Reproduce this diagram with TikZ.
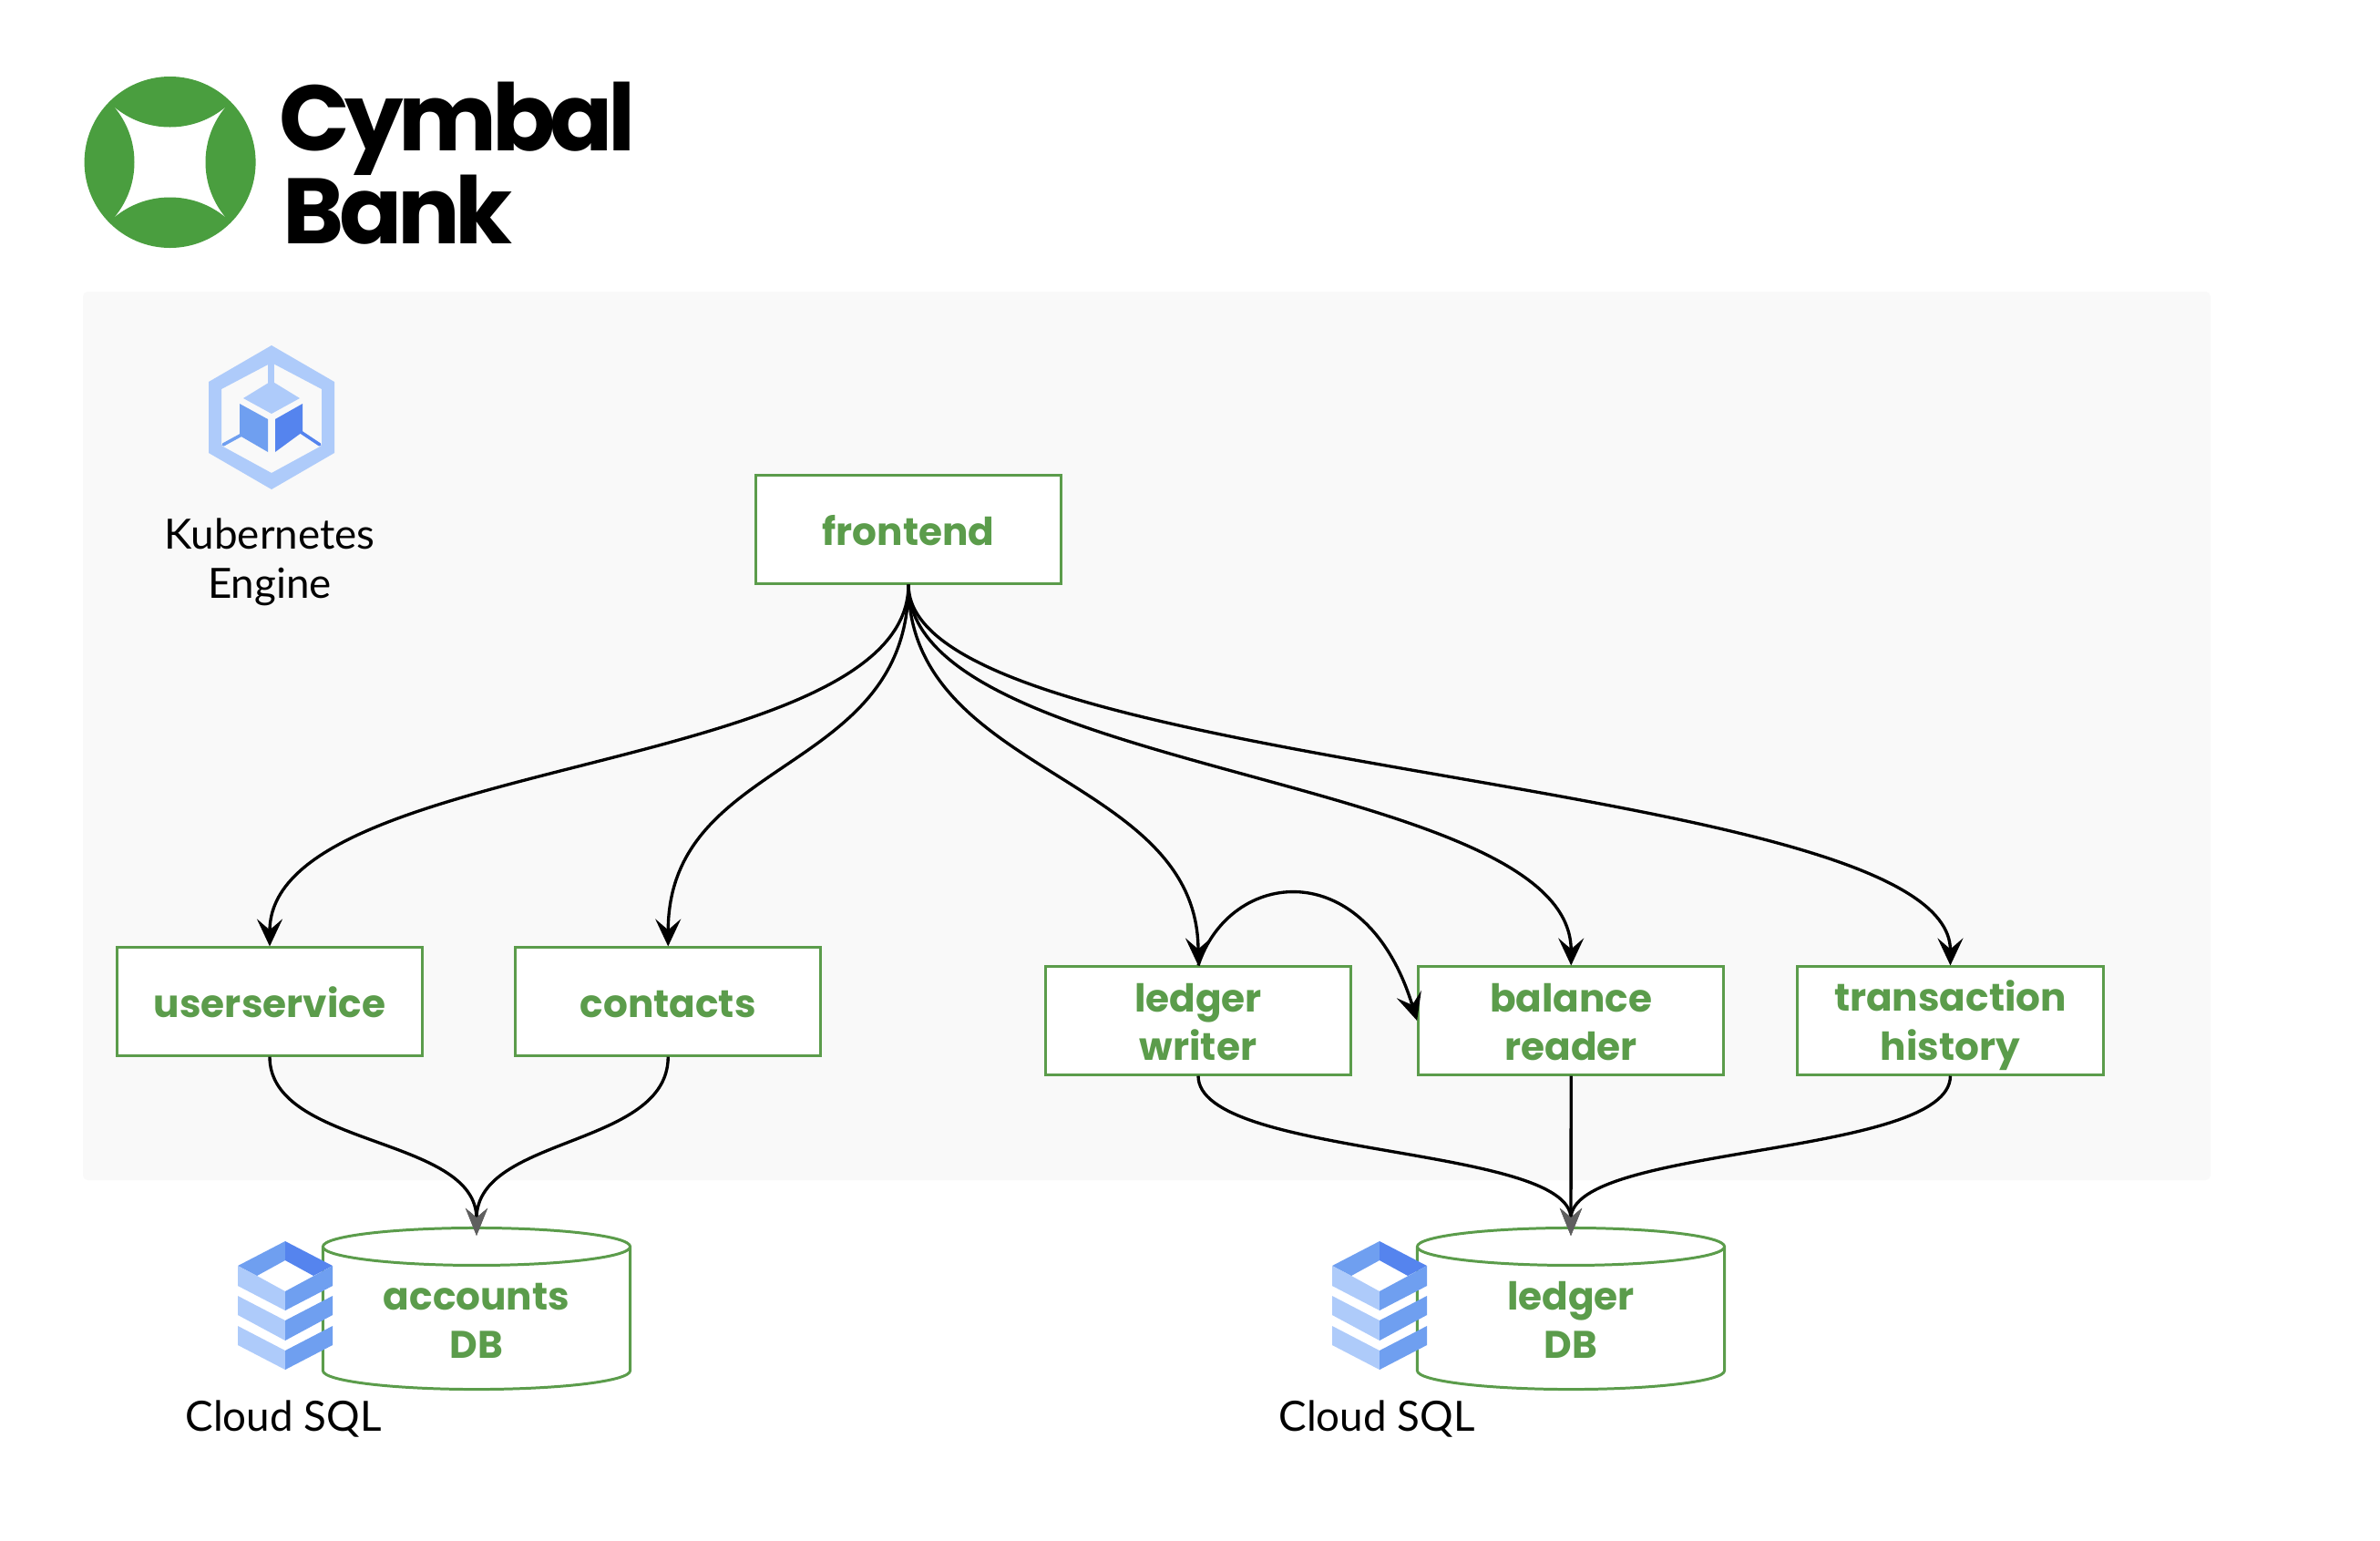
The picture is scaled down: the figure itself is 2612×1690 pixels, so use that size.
\documentclass[tikz,border=0pt]{standalone}
\usepackage{fontspec}
\setmainfont{Lato}
\newfontfamily\svcfont{Poppins}
\newfontfamily\logofont{Poppins}[LetterSpace=-5.5]
\usetikzlibrary{arrows.meta,positioning,shapes.geometric}

\definecolor{svcgreen}{HTML}{5B9C4B}
\definecolor{logogreen}{HTML}{4A9E3F}
\definecolor{panelgray}{HTML}{F9F9F9}
\definecolor{tipgray}{HTML}{5F5F5F}
\definecolor{gcplight}{HTML}{AECBFA}
\definecolor{gcpmid}{HTML}{6F9FF0}
\definecolor{gcpdark}{HTML}{5584EE}
\newcommand{\svcstrut}{\rule[-2.7pt]{0pt}{15.2pt}}
\newcommand{\svcsetup}{\svcfont\fontsize{12}{15.2}\selectfont\bfseries\setlength{\lineskiplimit}{-6pt}}

\begin{document}
\begin{tikzpicture}[
  x=0.01cm, y=-0.01cm,
  svc/.style={font=\svcsetup, draw=svcgreen, fill=white, line width=0.85pt, text=svcgreen, align=center, minimum width=3.35cm, minimum height=1.18cm, inner sep=0pt},
  dbase/.style={font=\svcsetup, cylinder, shape border rotate=90, aspect=0.2, draw=svcgreen, fill=white, line width=0.85pt, text=svcgreen, text width=2.05cm, align=center, minimum width=3.37cm, minimum height=1.77cm, inner sep=0pt},
  lbl/.style={align=center, font=\fontsize{13}{15.2}\selectfont, text=black, inner sep=0pt},
  arr/.style={-{Stealth[length=3mm,width=2.8mm,inset=1.2mm]}, line width=0.95pt, black},
  dbarr/.style={-{Stealth[length=3mm,width=2.4mm,inset=1mm,color=tipgray]}, line width=0.95pt, black, shorten >=-1mm}
]
\useasboundingbox (0,0) rectangle (2612,1690);
\fill[panelgray, rounded corners=1.5pt] (91,320) rectangle (2426,1295);

% logo
\fill[logogreen, even odd rule] (186.6,178) circle (94)
  (125,117) .. controls (160,147) and (213,147) .. (248,117)
  .. controls (218,152) and (218,204) .. (248,239)
  .. controls (213,209) and (160,209) .. (125,239)
  .. controls (155,204) and (155,152) .. (125,117) -- cycle;
\node[anchor=base west, inner sep=0pt, font=\logofont\fontsize{29}{29}\selectfont\bfseries] (cymbal) at (306,165) {Cymbal};
\node[anchor=base west, inner sep=0pt, font=\logofont\fontsize{29}{29}\selectfont\bfseries] (bank) at (310,267) {Bank};

% kubernetes icon
\fill[gcplight, even odd rule] (298,379) -- (367,419) -- (367,497) -- (298,537) -- (229,497) -- (229,419) -- cycle
  (298,398) -- (353,427) -- (353,489) -- (298,519) -- (243,489) -- (243,427) -- cycle;
\fill[gcplight] (294,398) rectangle (301,422);
\fill[gcplight] (298,418) -- (329,437) -- (298,454) -- (267,437) -- cycle;
\fill[gcpmid] (263,443) -- (294,460) -- (294,496) -- (263,478) -- cycle;
\fill[gcpdark] (302,460) -- (332,443) -- (332,474) -- (302,496) -- cycle;
\draw[gcpmid, line width=1pt, line cap=round] (267,476) -- (245,488);
\draw[gcpdark, line width=1pt, line cap=round] (330,474) -- (351,488);
\node[lbl] (gke) at (296,617) {Kubernetes\\Engine};

\node[svc] (frontend) at (997,581) {frontend\svcstrut};
\node[svc] (userservice) at (296,1099) {userservice\svcstrut};
\node[svc, right=0.99cm of userservice] (contacts) {contacts\svcstrut};
\node[svc] (ledgerwriter) at (1315,1120) {ledger\svcstrut\\writer\svcstrut};
\node[svc, right=0.71cm of ledgerwriter] (balancereader) {balance\svcstrut\\reader\svcstrut};
\node[svc, right=0.78cm of balancereader] (txnhistory) {transaction\svcstrut\\history\svcstrut};
\node[dbase] (accountsdb) at (523,1447) {accounts\svcstrut\\DB\svcstrut};
\node[dbase] (ledgerdb) at (1724,1447) {ledger\svcstrut\\DB\svcstrut};

% cloud sql icons
\foreach \dx in {0,1201} {
  \begin{scope}[xshift=\dx*0.01cm]
    \fill[gcpmid] (261,1389) -- (313,1362) -- (313,1383) -- (282,1400) -- cycle;
    \fill[gcpdark] (313,1362) -- (365,1389) -- (344,1400) -- (313,1383) -- cycle;
    \fill[gcplight] (261,1389) -- (282,1400) -- (313,1417) -- (313,1438) -- (261,1411) -- cycle;
    \fill[gcpmid] (313,1417) -- (365,1389) -- (365,1411) -- (313,1438) -- cycle;
    \fill[gcplight] (261,1422) -- (313,1449) -- (313,1471) -- (261,1443) -- cycle;
    \fill[gcpmid] (313,1449) -- (365,1422) -- (365,1443) -- (313,1471) -- cycle;
    \fill[gcplight] (261,1455) -- (313,1482) -- (313,1503) -- (261,1476) -- cycle;
    \fill[gcpmid] (313,1482) -- (365,1455) -- (365,1476) -- (313,1503) -- cycle;
  \end{scope}
}
\node[lbl] (sqla) at (311,1557) {Cloud SQL};
\node[lbl] (sqlb) at (1511,1557) {Cloud SQL};

\draw[arr] (frontend.south) .. controls +(0,210) and +(0,-210) .. (userservice.north);
\draw[arr] (frontend.south) .. controls +(0,210) and +(0,-210) .. (contacts.north);
\draw[arr] (frontend.south) .. controls +(0,210) and +(0,-210) .. (ledgerwriter.north);
\draw[arr] (frontend.south) .. controls +(0,210) and +(0,-210) .. (balancereader.north);
\draw[arr] (frontend.south) .. controls +(0,210) and +(0,-210) .. (txnhistory.north);
\draw[arr] (ledgerwriter.north) to[out=72,in=107,out looseness=1.15,in looseness=2] (balancereader.west);
\draw[dbarr] (userservice.south) .. controls +(0,100) and +(0,-100) .. (accountsdb.top);
\draw[dbarr] (contacts.south) .. controls +(0,100) and +(0,-100) .. (accountsdb.top);
\draw[dbarr] (ledgerwriter.south) .. controls +(0,90) and +(0,-90) .. (ledgerdb.top);
\draw[dbarr] (balancereader.south) -- (ledgerdb.top);
\draw[dbarr] (txnhistory.south) .. controls +(0,90) and +(0,-90) .. (ledgerdb.top);
\end{tikzpicture}
\end{document}
